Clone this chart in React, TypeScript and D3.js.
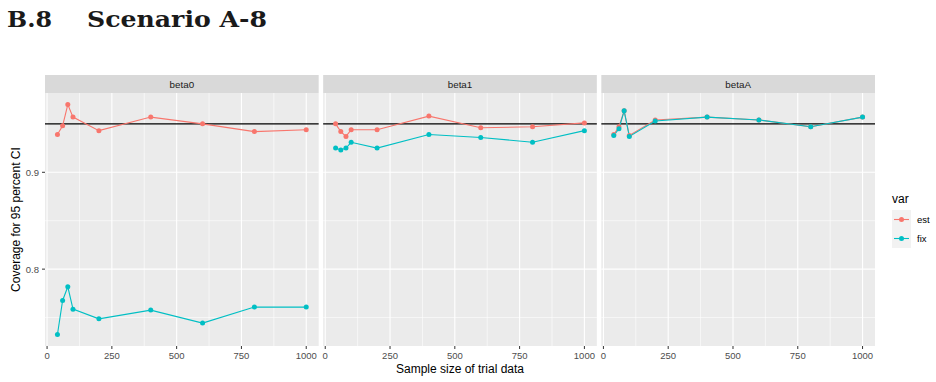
import { useEffect, useRef } from 'react';
import * as d3 from 'd3';

// Coverage of 95% CIs by sample size, one facet per coefficient
const sampleSizes = [40, 60, 80, 100, 200, 400, 600, 800, 1000];
const facets = ['beta0', 'beta1', 'betaA'];
const seriesNames = ['est', 'fix'];

const beta0Est = [0.939, 0.948, 0.970, 0.957, 0.943, 0.957, 0.950, 0.942, 0.944];
const beta0Fix = [0.7325, 0.7676, 0.7818, 0.7587, 0.7487, 0.7577, 0.7443, 0.7608, 0.7608];
const beta1Est = [0.950, 0.942, 0.937, 0.944, 0.944, 0.958, 0.946, 0.947, 0.951];
const beta1Fix = [0.925, 0.923, 0.925, 0.931, 0.925, 0.939, 0.936, 0.931, 0.943];
const betaAEst = [0.939, 0.947, 0.9635, 0.938, 0.954, 0.957, 0.954, 0.947, 0.957];
const betaAFix = [0.938, 0.945, 0.9635, 0.937, 0.953, 0.957, 0.954, 0.947, 0.957];

const xMajorTicks = [0, 250, 500, 750, 1000];
const xMinorTicks = [125, 375, 625, 875];
const yMajorTicks = [0.8, 0.9];
const yMinorTicks = [0.75, 0.85];
const targetCoverage = 0.95;

const COLORS: Record<string, string> = { est: '#F8766D', fix: '#00BFC4' };

const seriesByFacet: Record<string, Record<string, number[]>> = {
  beta0: { est: beta0Est, fix: beta0Fix },
  beta1: { est: beta1Est, fix: beta1Fix },
  betaA: { est: betaAEst, fix: betaAFix },
};

export default function App() {
  const svgRef = useRef<SVGSVGElement>(null);

  useEffect(() => {
    if (!svgRef.current) return;
    const width = 936;
    const height = 382;
    const font = '"Liberation Sans", Arial, sans-serif';
    const serif = '"DejaVu Serif", "Liberation Serif", serif';

    const svg = d3.select(svgRef.current);
    svg.selectAll('*').remove();
    svg.attr('width', width).attr('height', height);

    svg.append('rect').attr('width', width).attr('height', height).attr('fill', '#fff');

    // Section heading
    svg
      .append('text')
      .attr('x', 7)
      .attr('y', 27)
      .attr('font-family', serif)
      .attr('font-weight', 'bold')
      .attr('font-size', 23)
      .attr('fill', '#1a1a1a')
      .attr('textLength', 45)
      .attr('lengthAdjust', 'spacingAndGlyphs')
      .text('B.8');
    svg
      .append('text')
      .attr('x', 87)
      .attr('y', 27)
      .attr('font-family', serif)
      .attr('font-weight', 'bold')
      .attr('font-size', 23)
      .attr('fill', '#1a1a1a')
      .attr('textLength', 180)
      .attr('lengthAdjust', 'spacingAndGlyphs')
      .text('Scenario A-8');

    const plotLeft = 45;
    const plotRight = 875;
    const stripTop = 75;
    const stripBottom = 93;
    const panelBottom = 346;

    const facetScale = d3
      .scaleBand()
      .domain(facets)
      .range([plotLeft, plotRight])
      .paddingInner(0.0162);

    // y domain: data extent with 5% expansion
    const allVals = facets.flatMap((f) => seriesNames.flatMap((s) => seriesByFacet[f][s]));
    const [yMin, yMax] = d3.extent(allVals) as [number, number];
    const yPad = (yMax - yMin) * 0.05;
    const yScale = d3
      .scaleLinear()
      .domain([yMin - yPad, yMax + yPad])
      .range([panelBottom, stripBottom]);

    const xMin = d3.min(sampleSizes)!;
    const xMax = d3.max(sampleSizes)!;
    const xPad = (xMax - xMin) * 0.05;

    facets.forEach((facet) => {
      const x0 = facetScale(facet)!;
      const bw = facetScale.bandwidth();
      const xScale = d3
        .scaleLinear()
        .domain([xMin - xPad, xMax + xPad])
        .range([x0, x0 + bw]);

      const g = svg.append('g');

      // strip
      g.append('rect')
        .attr('x', x0)
        .attr('y', stripTop)
        .attr('width', bw)
        .attr('height', stripBottom - stripTop)
        .attr('fill', '#D9D9D9');
      g.append('text')
        .attr('x', x0 + bw / 2)
        .attr('y', (stripTop + stripBottom) / 2 + 3.5)
        .attr('text-anchor', 'middle')
        .attr('font-family', font)
        .attr('font-size', 9.8)
        .attr('fill', '#1A1A1A')
        .text(facet);

      // panel background
      g.append('rect')
        .attr('x', x0)
        .attr('y', stripBottom)
        .attr('width', bw)
        .attr('height', panelBottom - stripBottom)
        .attr('fill', '#EBEBEB');

      // minor grid
      g.selectAll('.ymin')
        .data(yMinorTicks)
        .enter()
        .append('line')
        .attr('x1', x0)
        .attr('x2', x0 + bw)
        .attr('y1', (d) => yScale(d))
        .attr('y2', (d) => yScale(d))
        .attr('stroke', '#fff')
        .attr('stroke-width', 0.6);
      g.selectAll('.xmin')
        .data(xMinorTicks)
        .enter()
        .append('line')
        .attr('x1', (d) => xScale(d))
        .attr('x2', (d) => xScale(d))
        .attr('y1', stripBottom)
        .attr('y2', panelBottom)
        .attr('stroke', '#fff')
        .attr('stroke-width', 0.6);

      // major grid
      g.selectAll('.ymaj')
        .data(yMajorTicks)
        .enter()
        .append('line')
        .attr('x1', x0)
        .attr('x2', x0 + bw)
        .attr('y1', (d) => yScale(d))
        .attr('y2', (d) => yScale(d))
        .attr('stroke', '#fff')
        .attr('stroke-width', 1.1);
      g.selectAll('.xmaj')
        .data(xMajorTicks)
        .enter()
        .append('line')
        .attr('x1', (d) => xScale(d))
        .attr('x2', (d) => xScale(d))
        .attr('y1', stripBottom)
        .attr('y2', panelBottom)
        .attr('stroke', '#fff')
        .attr('stroke-width', 1.1);

      // reference line at nominal coverage
      g.append('line')
        .attr('x1', x0)
        .attr('x2', x0 + bw)
        .attr('y1', yScale(targetCoverage))
        .attr('y2', yScale(targetCoverage))
        .attr('stroke', '#000')
        .attr('stroke-width', 1.1);

      const line = d3
        .line<number>()
        .x((_, i) => xScale(sampleSizes[i]))
        .y((d) => yScale(d));

      seriesNames.forEach((s) => {
        g.append('path')
          .attr('d', line(seriesByFacet[facet][s]))
          .attr('fill', 'none')
          .attr('stroke', COLORS[s])
          .attr('stroke-width', 1.1);
      });
      seriesNames.forEach((s) => {
        g.selectAll(`.pt-${s}`)
          .data(seriesByFacet[facet][s])
          .enter()
          .append('circle')
          .attr('cx', (_, i) => xScale(sampleSizes[i]))
          .attr('cy', (d) => yScale(d))
          .attr('r', 2.5)
          .attr('fill', COLORS[s]);
      });

      // x axis ticks + labels
      xMajorTicks.forEach((t) => {
        g.append('line')
          .attr('x1', xScale(t))
          .attr('x2', xScale(t))
          .attr('y1', panelBottom)
          .attr('y2', panelBottom + 3)
          .attr('stroke', '#333')
          .attr('stroke-width', 1);
        g.append('text')
          .attr('x', xScale(t))
          .attr('y', panelBottom + 13)
          .attr('text-anchor', 'middle')
          .attr('font-family', font)
          .attr('font-size', 9.5)
          .attr('fill', '#4D4D4D')
          .text(t);
      });

      // y axis only on the first panel
      if (facet === facets[0]) {
        yMajorTicks.forEach((t) => {
          g.append('line')
            .attr('x1', x0 - 3)
            .attr('x2', x0)
            .attr('y1', yScale(t))
            .attr('y2', yScale(t))
            .attr('stroke', '#333')
            .attr('stroke-width', 1);
          g.append('text')
            .attr('x', x0 - 6)
            .attr('y', yScale(t) + 3.5)
            .attr('text-anchor', 'end')
            .attr('font-family', font)
            .attr('font-size', 9.5)
            .attr('fill', '#4D4D4D')
            .text(d3.format('.1f')(t));
        });
      }
    });

    // axis titles
    svg
      .append('text')
      .attr('x', (plotLeft + plotRight) / 2)
      .attr('y', 373)
      .attr('text-anchor', 'middle')
      .attr('font-family', font)
      .attr('font-size', 12)
      .attr('fill', '#000')
      .text('Sample size of trial data');
    svg
      .append('text')
      .attr('transform', `translate(20,${(stripBottom + panelBottom) / 2}) rotate(-90)`)
      .attr('text-anchor', 'middle')
      .attr('font-family', font)
      .attr('font-size', 12)
      .attr('fill', '#000')
      .text('Coverage for 95 percent CI');

    // legend
    const legend = svg.append('g').attr('transform', 'translate(892,0)');
    legend
      .append('text')
      .attr('x', 0)
      .attr('y', 203)
      .attr('font-family', font)
      .attr('font-size', 12)
      .attr('fill', '#000')
      .text('var');
    seriesNames.forEach((s, i) => {
      const ky = 210 + i * 19;
      legend
        .append('rect')
        .attr('x', 0)
        .attr('y', ky)
        .attr('width', 19)
        .attr('height', 19)
        .attr('fill', '#F2F2F2');
      legend
        .append('line')
        .attr('x1', 2)
        .attr('x2', 17)
        .attr('y1', ky + 9.5)
        .attr('y2', ky + 9.5)
        .attr('stroke', COLORS[s])
        .attr('stroke-width', 1.1);
      legend
        .append('circle')
        .attr('cx', 9.5)
        .attr('cy', ky + 9.5)
        .attr('r', 2.5)
        .attr('fill', COLORS[s]);
      legend
        .append('text')
        .attr('x', 25)
        .attr('y', ky + 13)
        .attr('font-family', font)
        .attr('font-size', 9.5)
        .attr('fill', '#000')
        .text(s);
    });
  }, []);

  return <svg ref={svgRef} style={{ position: 'absolute', left: 0, top: 0 }} />;
}
